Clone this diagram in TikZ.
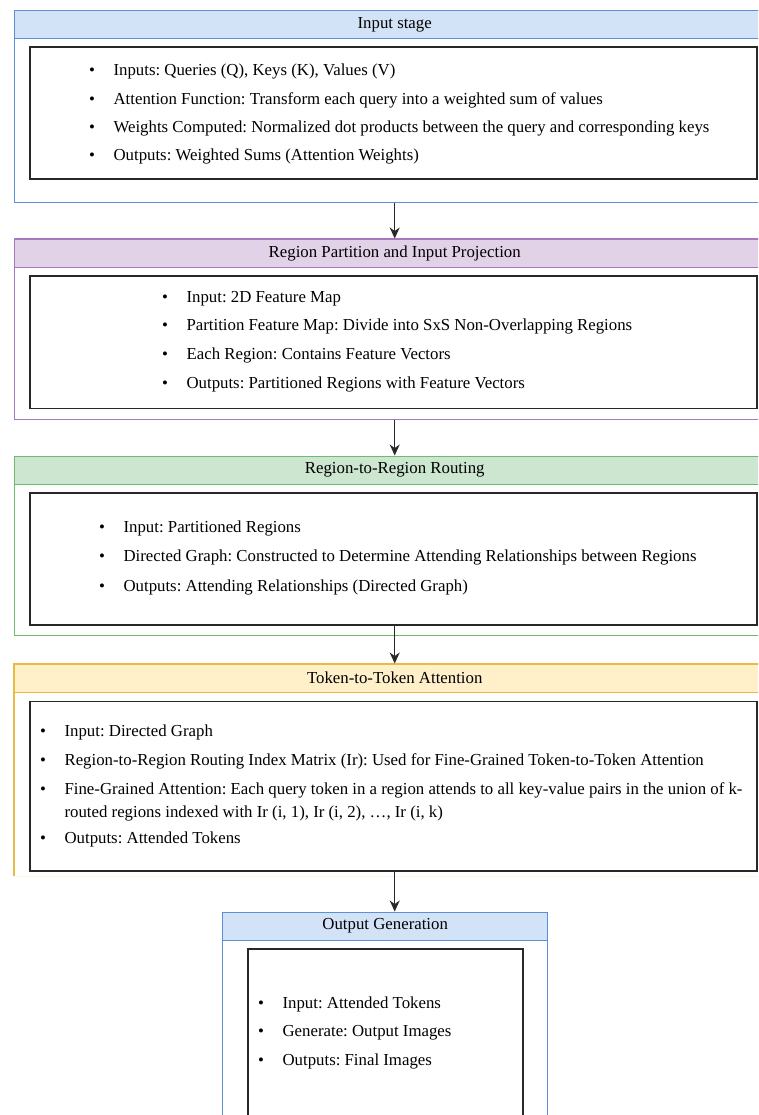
\documentclass[tikz,border=0pt]{standalone}
\usepackage{fontspec}
\setmainfont{Liberation Serif}
\definecolor{StageBlue}{RGB}{90,144,214}
\definecolor{StageBlueFill}{RGB}{210,227,248}
\definecolor{StagePurple}{RGB}{168,120,190}
\definecolor{StagePurpleFill}{RGB}{226,210,231}
\definecolor{StageGreen}{RGB}{108,188,108}
\definecolor{StageGreenFill}{RGB}{204,230,208}
\definecolor{StageYellow}{RGB}{232,186,70}
\definecolor{StageYellowFill}{RGB}{255,240,202}
\definecolor{InnerGray}{RGB}{40,40,40}
\usetikzlibrary{arrows.meta, positioning}
\tikzset{
  lane/.style={rectangle, draw=#1, line width=1.4pt, anchor=north west,
               inner sep=0pt, minimum width=760pt},
  head/.style={rectangle, draw=#1, fill=#1Fill, line width=1.4pt, anchor=north west,
               inner sep=0pt, minimum height=28pt,
               font=\fontsize{16.8}{20}\selectfont},
  innerbox/.style={rectangle, draw=InnerGray, line width=1.8pt, anchor=north west,
                   inner sep=0pt},
  itemlist/.style={anchor=base west, inner sep=0pt,
                   font=\fontsize{16.8}{#1}\selectfont},
  arr/.style={-{Stealth[length=11pt, width=10pt]}, line width=1.5pt, color=#1},
}
\newcommand{\blist}[1]{\begin{tabular}[t]{@{}l@{\hspace{18.5pt}}l@{}}#1\end{tabular}}
\frenchspacing

\begin{document}
\begin{tikzpicture}[x=1pt, y=-1pt]
  \useasboundingbox (0,0) rectangle (758,1115);
  \clip (0,0) rectangle (758,1115);

  % Input stage
  \node[lane=StageBlue, minimum height=192pt] (s1) at (14,10) {};
  \node[head=StageBlue, minimum width=760pt] (h1) at (s1.north west) {Input stage};
  \node[innerbox, minimum width=727pt, minimum height=132pt] (b1) at (29,46) {};
  \node[itemlist=28.2pt] (t1) at (89,76) {\blist{%
    \textbullet & Inputs: Queries (Q), Keys (K), Values (V)\\
    \textbullet & Attention Function: Transform each query into a weighted sum of values\\
    \textbullet & Weights Computed: Normalized dot products between the query and corresponding keys\\
    \textbullet & Outputs: Weighted Sums (Attention Weights)}};

  % Region partition
  \node[lane=StagePurple, minimum height=180pt] (s2) at (14,238.5) {};
  \node[head=StagePurple, minimum width=760pt] (h2) at (s2.north west) {Region Partition and Input Projection};
  \node[innerbox, minimum width=727pt, minimum height=132.5pt] (b2) at (29,275) {};
  \node[itemlist=28.8pt] (t2) at (162,302) {\blist{%
    \textbullet & Input: 2D Feature Map\\
    \textbullet & Partition Feature Map: Divide into SxS Non-Overlapping Regions\\
    \textbullet & Each Region: Contains Feature Vectors\\
    \textbullet & Outputs: Partitioned Regions with Feature Vectors}};

  % Routing
  \node[lane=StageGreen, minimum height=179.5pt] (s3) at (14,455.5) {};
  \node[head=StageGreen, minimum width=760pt] (h3) at (s3.north west) {Region-to-Region Routing};
  \node[innerbox, minimum width=727pt, minimum height=132pt] (b3) at (29,492) {};
  \node[itemlist=29.5pt] (t3) at (99,532) {\blist{%
    \textbullet & Input: Partitioned Regions\\
    \textbullet & Directed Graph: Constructed to Determine Attending Relationships between Regions\\
    \textbullet & Outputs: Attending Relationships (Directed Graph)}};

  % Token attention (open at the bottom)
  \node[lane=StageYellow, draw=none, minimum height=211.5pt] (s4) at (14,663.5) {};
  \draw[StageYellow, line width=1.4pt] (s4.south west) -- (s4.north west) -- (s4.north east);
  \draw[StageYellow!12, line width=1.2pt] (s4.south west) -- (s4.south east);
  \node[head=StageYellow, minimum width=760pt] (h4) at (s4.north west) {Token-to-Token Attention};
  \node[innerbox, minimum width=727pt, minimum height=169.5pt] (b4) at (29,700.5) {};
  \node[itemlist=29pt] (t4) at (40,736.7) {\blist{%
    \textbullet & Input: Directed Graph\\
    \textbullet & Region-to-Region Routing Index Matrix (Ir): Used for Fine-Grained Token-to-Token Attention\\
    \textbullet & Fine-Grained Attention: Each query token in a region attends to all key-value pairs in the union of k-\\[-6.7pt]
                & routed regions indexed with Ir (i, 1), Ir (i, 2), …, Ir (i, k)\\[-3pt]
    \textbullet & Outputs: Attended Tokens}};

  % Output generation
  \node[lane=StageBlue, minimum width=325pt, minimum height=300pt] (s5) at (222,911.5) {};
  \node[head=StageBlue, minimum width=325pt] (h5) at (s5.north west) {Output Generation};
  \node[innerbox, minimum width=275.6pt, minimum height=260pt] (b5) at (246.7,948) {};
  \node[itemlist=28.5pt] (t5) at (258,1008) {\blist{%
    \textbullet & Input: Attended Tokens\\
    \textbullet & Generate: Output Images\\
    \textbullet & Outputs: Final Images}};

  \draw[arr=InnerGray] (s1.south) -- (s2.north);
  \draw[arr=InnerGray] (s2.south) -- (s3.north);
  \draw[arr=InnerGray] (b3.south -| s3.south) -- (s4.north);
  \draw[arr=InnerGray] (b4.south -| s4.north) -- (s5.north -| s4.north);
\end{tikzpicture}
\end{document}
